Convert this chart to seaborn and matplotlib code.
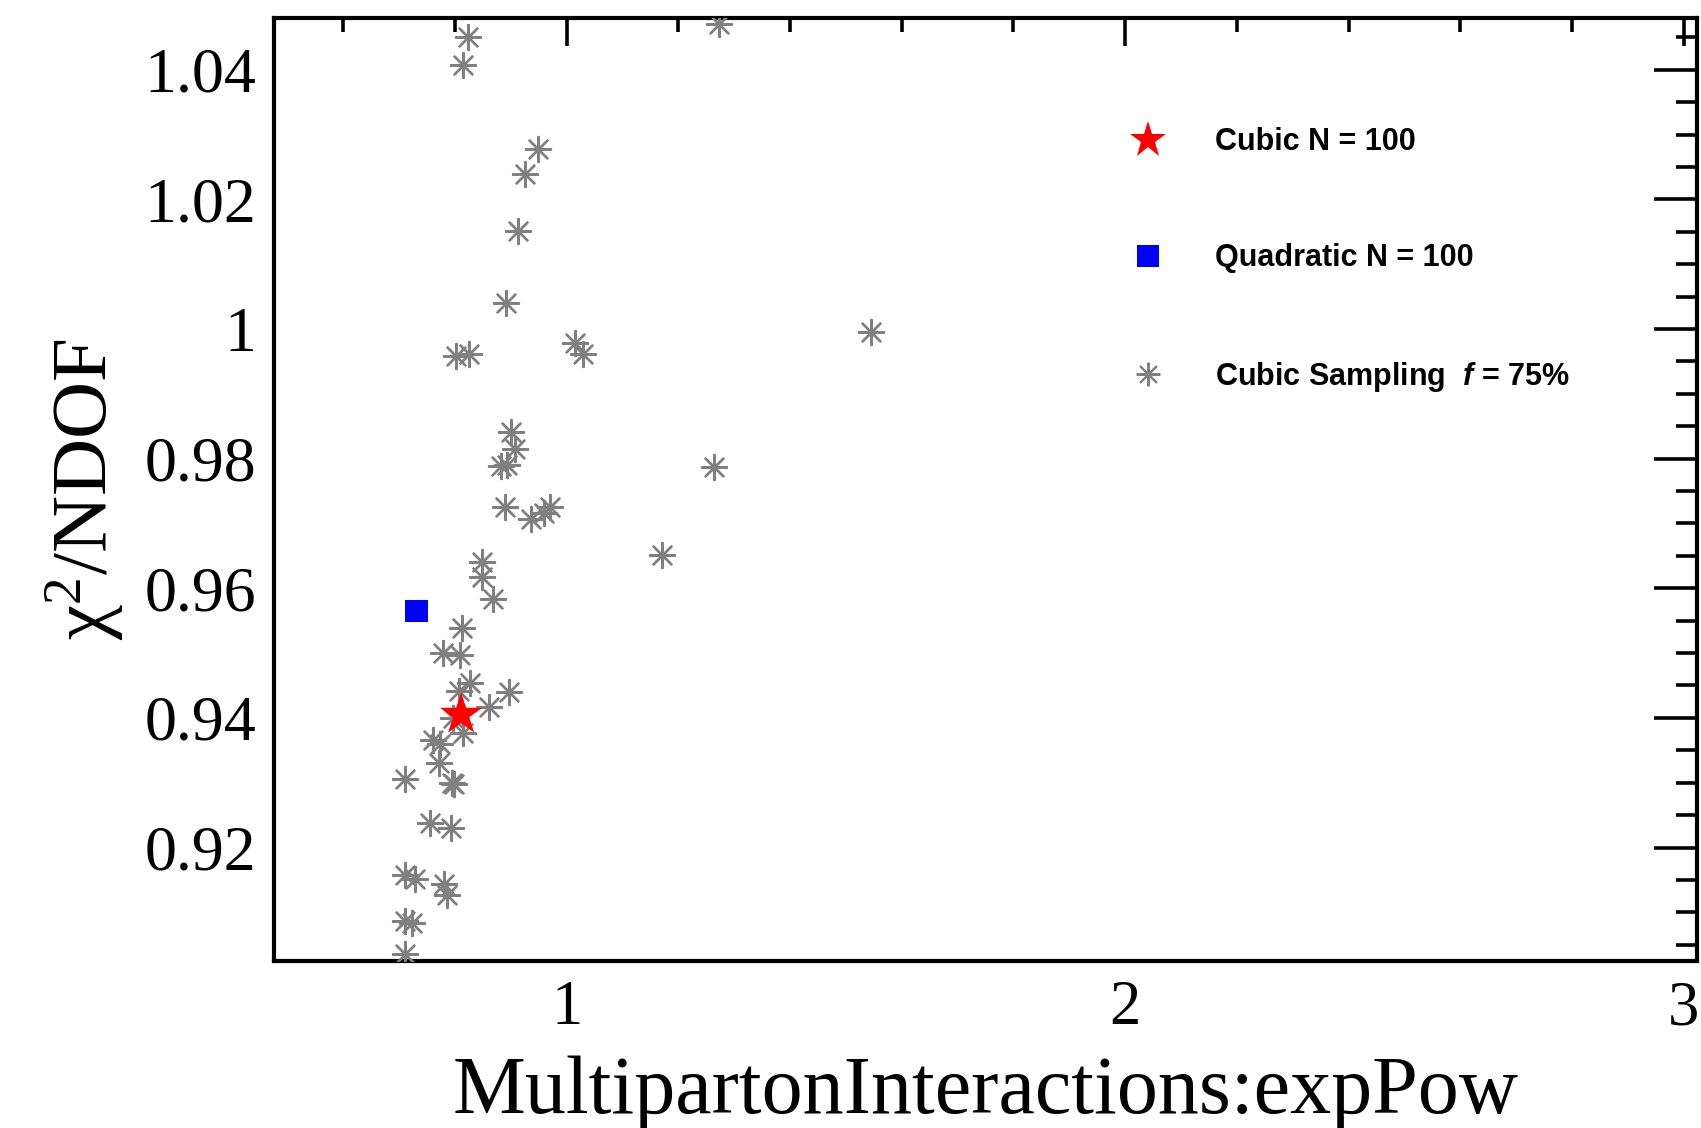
import numpy as np
import pandas as pd
import matplotlib
matplotlib.use("Agg")
import matplotlib.pyplot as plt
import seaborn as sns
from matplotlib.ticker import MultipleLocator, FuncFormatter
from matplotlib.lines import Line2D

# points
samp_x = [0.823, 0.814, 0.948, 0.926, 0.912, 0.892, 0.802, 0.825, 1.015, 1.029,
          1.273, 1.545, 1.263, 1.170, 0.900, 0.907, 0.882, 0.893, 0.890, 0.936,
          0.959, 0.971, 0.849, 0.848, 0.868, 0.812, 0.778, 0.809, 0.827, 0.808,
          0.897, 0.861, 0.797, 0.815, 0.761, 0.773, 0.771, 0.795, 0.799, 0.711,
          0.755, 0.793, 0.711, 0.728, 0.781, 0.785, 0.711, 0.723, 0.711]
samp_y = [1.0450, 1.0407, 1.0278, 1.0239, 1.0152, 1.0040, 0.9958, 0.9961, 0.9978, 0.9962,
          1.0471, 0.9996, 0.9787, 0.9651, 0.9841, 0.9815, 0.9788, 0.9790, 0.9725, 0.9707,
          0.9716, 0.9725, 0.9641, 0.9618, 0.9584, 0.9538, 0.9500, 0.9497, 0.9454, 0.9441,
          0.9440, 0.9417, 0.9400, 0.9377, 0.9366, 0.9359, 0.9330, 0.9300, 0.9298, 0.9306,
          0.9238, 0.9230, 0.9158, 0.9152, 0.9144, 0.9127, 0.9087, 0.9084, 0.9035]
cubic_x = [0.811]
cubic_y = [0.9405]
quad_x = [0.731]
quad_y = [0.9565]

lab_cubic = "Cubic N = 100"
lab_quad = "Quadratic N = 100"
lab_samp = r"Cubic Sampling  $\mathbfit{f}$ = 75%"

sns.set_style("white")
plt.rcParams["font.family"] = ["Liberation Serif", "DejaVu Serif"]
plt.rcParams["text.color"] = "black"
plt.rcParams["axes.labelcolor"] = "black"
plt.rcParams["xtick.color"] = "black"
plt.rcParams["ytick.color"] = "black"
plt.rcParams["mathtext.fontset"] = "custom"
plt.rcParams["mathtext.rm"] = "Liberation Serif"
plt.rcParams["mathtext.it"] = "Liberation Serif:italic"
if "mathtext.bfit" in plt.rcParams:
    plt.rcParams["mathtext.bfit"] = "Liberation Sans:italic:bold"

fig = plt.figure(figsize=(17.01, 11.28), dpi=100)
ax = fig.add_axes([0.1611, 0.1481, 0.8366, 0.8360])

asterisk = (8, 2, 0)
sns.scatterplot(x=samp_x, y=samp_y, marker=asterisk, s=18**2, color="#808080",
                edgecolor="#808080", linewidth=1.7, ax=ax, zorder=3)
sns.scatterplot(x=quad_x, y=quad_y, marker="s", s=16**2, color="#0000ff",
                edgecolor="none", linewidth=0, ax=ax, zorder=4)
sns.scatterplot(x=cubic_x, y=cubic_y, marker="*", s=32**2, color="#ff0000",
                edgecolor="none", linewidth=0, ax=ax, zorder=5)

ax.set_xlim(0.476, 3.024)
ax.set_ylim(0.9025, 1.0480)

ax.xaxis.set_major_locator(MultipleLocator(1))
ax.xaxis.set_minor_locator(MultipleLocator(0.2))
ax.yaxis.set_major_locator(MultipleLocator(0.02))
ax.yaxis.set_minor_locator(MultipleLocator(0.005))
ax.yaxis.set_major_formatter(FuncFormatter(lambda v, p: "{:g}".format(round(v, 4))))
ax.xaxis.set_major_formatter(FuncFormatter(lambda v, p: "{:g}".format(round(v, 4))))

ax.tick_params(axis="both", which="both", direction="in", top=True, right=True,
               width=2.6, color="black")
ax.tick_params(axis="x", which="major", length=20, pad=14, labelsize=45)
ax.tick_params(axis="x", which="minor", length=10)
ax.tick_params(axis="y", which="major", length=31, pad=13, labelsize=46)
ax.tick_params(axis="y", which="minor", length=15)
for sp in ax.spines.values():
    sp.set_linewidth(3)
    sp.set_color("black")

ax.set_xlabel("MultipartonInteractions:expPow", fontsize=59)
ax.set_ylabel(r"$\mathrm{\chi}^{2}$/NDOF", fontsize=57)
ax.xaxis.set_label_coords(0.5, -0.1)
ax.yaxis.set_label_coords(-0.104, 0.5)

handles = [
    Line2D([], [], marker="*", color="#ff0000", markersize=28, linestyle="none", markeredgewidth=0),
    Line2D([], [], marker="s", color="#0000ff", markersize=16, linestyle="none", markeredgewidth=0),
    Line2D([], [], marker=asterisk, color="#808080", markeredgecolor="#808080", markersize=17,
           linestyle="none", markeredgewidth=1.5),
]
ax.legend(handles, [lab_cubic, lab_quad, lab_samp], loc="upper left",
          bbox_to_anchor=(0.6036, 0.884), frameon=False, handlelength=1.0,
          handletextpad=1.67, labelspacing=2.82, borderpad=0, borderaxespad=0,
          prop={"family": "Liberation Sans", "weight": "bold", "size": 22})

fig.savefig("out.png", dpi=100)
